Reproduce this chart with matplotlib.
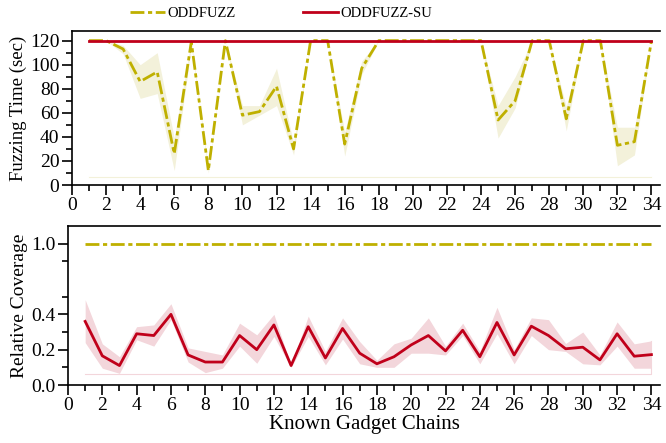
import numpy as np
import matplotlib
matplotlib.use("Agg")
import matplotlib.pyplot as plt
from matplotlib.ticker import MultipleLocator, FixedLocator

plt.rcParams['font.family'] = ['Liberation Serif', 'DejaVu Serif']
plt.rcParams['mathtext.fontset'] = 'stix'

chains = list(range(1, 35))

# Fuzzing time (sec)
oddfuzz_time = [120, 120, 113, 86, 94, 26, 119, 12, 120, 58, 61, 82, 30, 120, 120, 34,
                97, 120, 120, 120, 120, 120, 120, 120, 54, 70, 120, 120, 55, 120, 120, 33, 36, 120]
oddfuzz_time_lo = [120, 120, 109, 72, 76, 12, 115, 10, 120, 50, 58, 66, 25, 120, 120, 24,
                   92, 120, 120, 120, 120, 120, 120, 120, 39, 64, 120, 120, 45, 120, 120, 16, 25, 120]
oddfuzz_time_hi = [120, 120, 116, 100, 110, 39, 120, 14, 120, 66, 66, 97, 35, 120, 120, 44,
                   103, 120, 120, 120, 120, 120, 120, 120, 66, 90, 120, 120, 65, 120, 120, 48, 48, 120]
oddfuzz_su_time = [120] * 34

# Relative coverage
oddfuzz_cov = [1.0] * 34
oddfuzz_su_cov = [0.36, 0.165, 0.11, 0.29, 0.28, 0.40, 0.17, 0.13, 0.13, 0.28, 0.20, 0.34,
                  0.11, 0.33, 0.153, 0.32, 0.18, 0.12, 0.16, 0.227, 0.28, 0.193, 0.31, 0.16,
                  0.354, 0.17, 0.333, 0.28, 0.205, 0.214, 0.142, 0.29, 0.163, 0.172]
oddfuzz_su_cov_lo = [0.24, 0.095, 0.066, 0.256, 0.22, 0.37, 0.13, 0.07, 0.095, 0.22, 0.123, 0.275,
                     0.10, 0.275, 0.114, 0.26, 0.12, 0.10, 0.10, 0.18, 0.18, 0.17, 0.28, 0.12,
                     0.29, 0.12, 0.28, 0.20, 0.19, 0.12, 0.114, 0.22, 0.095, 0.095]
oddfuzz_su_cov_hi = [0.483, 0.233, 0.16, 0.33, 0.34, 0.46, 0.21, 0.19, 0.17, 0.35, 0.284, 0.40,
                     0.11, 0.39, 0.19, 0.38, 0.246, 0.14, 0.233, 0.265, 0.38, 0.22, 0.35, 0.19,
                     0.44, 0.20, 0.38, 0.37, 0.235, 0.30, 0.17, 0.357, 0.233, 0.25]

yellow = '#BFB000'
yellow_band = '#F3F1DA'
red = '#C0001A'
red_band = '#F3D6DB'
dash = (0, (5, 1.3, 1.5, 1.3))

fig = plt.figure(figsize=(6.66, 4.43), dpi=100)
W, H = 666, 443
ax1 = fig.add_axes([72 / W, 1 - 185 / H, 588 / W, 154 / H])
ax2 = fig.add_axes([68 / W, 1 - 385 / H, 592 / W, 159 / H])

# ---- top panel ----
ax1.fill_between(chains, oddfuzz_time_lo, oddfuzz_time_hi, color=yellow_band, lw=0)
ax1.plot([chains[0], chains[-1]], [7, 7], color=yellow_band, lw=0.8)
l1, = ax1.plot(chains, oddfuzz_time, color=yellow, lw=2, linestyle=dash, label='ODDFUZZ')
l2, = ax1.plot(chains, oddfuzz_su_time, color=red, lw=2, label='ODDFUZZ-SU')
ax1.set_xlim(0, 34.5)
ax1.set_ylim(0, 128)
ax1.yaxis.set_major_locator(MultipleLocator(20))
ax1.yaxis.set_minor_locator(MultipleLocator(10))
ax1.set_ylabel('Fuzzing Time (sec)', fontsize=13.5, labelpad=2)

# ---- bottom panel ----
def fwd(y):
    y = np.asarray(y, float)
    return np.where(y <= 0.5, y, np.where(y >= 0.9, y - 0.2, 0.5 + (y - 0.5) * 0.5))

def inv(t):
    t = np.asarray(t, float)
    return np.where(t <= 0.5, t, np.where(t >= 0.7, t + 0.2, 0.5 + (t - 0.5) * 2))

ax2.set_yscale('function', functions=(fwd, inv))
ax2.fill_between(chains, oddfuzz_su_cov_lo, oddfuzz_su_cov_hi, color=red_band, lw=0)
ax2.plot([chains[0], chains[-1], chains[-1]], [0.065, 0.065, 0.25], color=red_band, lw=0.8)
ax2.plot(chains, oddfuzz_cov, color=yellow, lw=2, linestyle=dash)
ax2.plot(chains, oddfuzz_su_cov, color=red, lw=2)
ax2.set_xlim(0, 34.5)
ax2.set_ylim(0, 1.1)
ax2.yaxis.set_major_locator(FixedLocator([0.0, 0.2, 0.4, 1.0]))
ax2.yaxis.set_minor_locator(FixedLocator([0.1, 0.3, 0.5, 0.9]))
ax2.set_yticklabels(['0.0', '0.2', '0.4', '1.0'])
ax2.set_ylabel('Relative Coverage', fontsize=14, labelpad=2)
ax2.set_xlabel('Known Gadget Chains', fontsize=15, labelpad=0)

for ax in (ax1, ax2):
    ax.xaxis.set_major_locator(MultipleLocator(2))
    ax.xaxis.set_minor_locator(MultipleLocator(1))
    ax.spines['right'].set_visible(False)
    for s in ('left', 'bottom', 'top'):
        ax.spines[s].set_linewidth(1.2)
    ax.tick_params(which='major', direction='out', length=7, width=1.2, labelsize=14, pad=2)
    ax.tick_params(which='minor', direction='out', length=4, width=1.2)

fig.legend(handles=[l1, l2], loc='center', bbox_to_anchor=(281 / W, 1 - 13 / H),
           ncol=2, frameon=False, fontsize=10.5, handlelength=2.4, handletextpad=0.2,
           columnspacing=4.6, borderaxespad=0)

fig.savefig('out.png', dpi=100)
